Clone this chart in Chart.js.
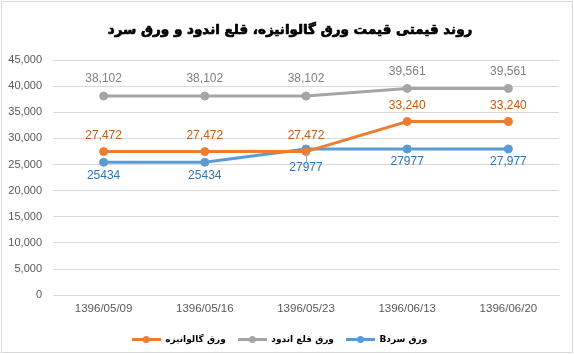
<!DOCTYPE html>
<html>
<head>
<meta charset="utf-8">
<script src="https://cdn.jsdelivr.net/npm/chart.js@4"></script>
<style>
  html, body { margin: 0; padding: 0; background: #fff; }
  #wrap { width: 574px; height: 354px; }
</style>
</head>
<body>
<div id="wrap"><canvas id="price-chart" width="574" height="354"></canvas></div>
<script>

const dates      = ["1396/05/09", "1396/05/16", "1396/05/23", "1396/06/13", "1396/06/20"];
const galvanized = [27472, 27472, 27472, 33240, 33240];
const tinPlated  = [38102, 38102, 38102, 39561, 39561];
const coldSheet  = [25434, 25434, 27977, 27977, 27977];

// labels exactly as printed on the picture
const galvanizedLabels = ["27,472", "27,472", "27,472", "33,240", "33,240"];
const tinPlatedLabels  = ["38,102", "38,102", "38,102", "39,561", "39,561"];
const coldSheetLabels  = ["25434", "25434", "27977", "27977", "27,977"];

const yTicks = [0, 5000, 10000, 15000, 20000, 25000, 30000, 35000, 40000, 45000];

const titleText = "روند قیمتی قیمت ورق گالوانیزه، قلع اندود و ورق سرد";

function legendMark(color) {
    const c = document.createElement('canvas');
    c.width = 29;
    c.height = 9;
    const g = c.getContext('2d');
    g.strokeStyle = color;
    g.lineWidth = 3;
    g.beginPath();
    g.moveTo(0, 4.5);
    g.lineTo(29, 4.5);
    g.stroke();
    g.fillStyle = color;
    g.beginPath();
    g.arc(14.5, 4.5, 3.5, 0, Math.PI * 2);
    g.fill();
    return c;
}

// draws the value labels next to each point
const pointLabels = {
    id: 'pointLabels',
    afterDatasetsDraw(chart) {
        const ctx = chart.ctx;
        ctx.save();
        ctx.font = '12px "Liberation Sans", Arial, sans-serif';
        ctx.textAlign = 'center';
        ctx.textBaseline = 'middle';
        chart.data.datasets.forEach((ds, i) => {
            const meta = chart.getDatasetMeta(i);
            meta.data.forEach((pt, j) => {
                let off = ds.labelOffset;
                if (ds.leaderAt === j) {
                    off = off + 6;
                    ctx.strokeStyle = '#a6a6a6';
                    ctx.lineWidth = 1;
                    ctx.beginPath();
                    ctx.moveTo(pt.x + 0.5, pt.y + 4);
                    ctx.lineTo(pt.x + 0.5, pt.y + off - 6);
                    ctx.stroke();
                }
                ctx.fillStyle = ds.labelColor;
                ctx.fillText(ds.valueLabels[j], pt.x, pt.y + off);
            });
        });
        ctx.restore();
    }
};

// background, outer frame and the heavy title
const frame = {
    id: 'frame',
    beforeDraw(chart) {
        const ctx = chart.ctx;
        ctx.save();
        ctx.fillStyle = '#fff';
        ctx.fillRect(0, 0, chart.width, chart.height);
        ctx.strokeStyle = '#d9d9d9';
        ctx.lineWidth = 1;
        ctx.strokeRect(1.5, 1.5, chart.width - 3, chart.height - 3);

        ctx.font = 'bold 13.5px "DejaVu Sans", sans-serif';
        ctx.textAlign = 'center';
        ctx.textBaseline = 'middle';
        ctx.direction = 'rtl';
        ctx.fillStyle = '#000';
        ctx.strokeStyle = '#000';
        ctx.lineWidth = 0.7;
        ctx.lineJoin = 'round';
        ctx.strokeText(titleText, 290, 30);
        ctx.fillText(titleText, 290, 30);
        ctx.restore();
    }
};

const ctx = document.getElementById('price-chart').getContext('2d');
new Chart(ctx, {
    type: 'line',
    data: {
        labels: dates,
        datasets: [
            {
                label: 'ورق گالوانیزه',
                data: galvanized,
                borderColor: '#ed7d31',
                backgroundColor: '#ed7d31',
                labelColor: '#c55a11',
                valueLabels: galvanizedLabels,
                labelOffset: -16,
                legendMark: legendMark('#ed7d31')
            },
            {
                label: 'ورق قلع اندود',
                data: tinPlated,
                borderColor: '#a5a5a5',
                backgroundColor: '#a5a5a5',
                labelColor: '#7f7f7f',
                valueLabels: tinPlatedLabels,
                labelOffset: -17,
                legendMark: legendMark('#a5a5a5')
            },
            {
                label: 'ورق سردB',
                data: coldSheet,
                borderColor: '#5b9bd5',
                backgroundColor: '#5b9bd5',
                labelColor: '#2e75b6',
                valueLabels: coldSheetLabels,
                labelOffset: 13,
                leaderAt: 2,
                legendMark: legendMark('#5b9bd5')
            }
        ]
    },
    options: {
        responsive: false,
        animation: false,
        layout: { padding: { left: 0, right: 15, top: 60, bottom: 0 } },
        elements: {
            line: { borderWidth: 3, tension: 0 },
            point: { radius: 4, hoverRadius: 4, pointStyle: 'circle' }
        },
        scales: {
            x: {
                offset: true,
                grid: { display: false, drawTicks: false },
                border: { color: '#d9d9d9' },
                ticks: {
                    color: '#595959',
                    padding: 7,
                    font: { family: '"Liberation Sans", Arial, sans-serif', size: 11.5 }
                }
            },
            y: {
                min: 0,
                max: 45000,
                afterBuildTicks(scale) {
                    scale.ticks = yTicks.map(v => ({ value: v }));
                },
                afterFit(scale) {
                    scale.width = 53;
                },
                grid: { color: '#d9d9d9', drawTicks: false },
                border: { display: false },
                ticks: {
                    color: '#595959',
                    padding: 11,
                    font: { family: '"Liberation Sans", Arial, sans-serif', size: 11 },
                    callback: v => v.toLocaleString('en-US')
                }
            }
        },
        plugins: {
            title: { display: false },
            legend: {
                position: 'bottom',
                textDirection: 'rtl',
                labels: {
                    usePointStyle: true,
                    pointStyleWidth: 29,
                    boxHeight: 9,
                    padding: 12,
                    color: '#000',
                    font: { family: '"DejaVu Sans", sans-serif', size: 9, weight: 'bold' },
                    generateLabels(chart) {
                        return chart.data.datasets.map((ds, i) => ({
                            text: ds.label,
                            pointStyle: ds.legendMark,
                            fillStyle: ds.borderColor,
                            strokeStyle: ds.borderColor,
                            fontColor: '#000',
                            lineWidth: 0,
                            hidden: false,
                            datasetIndex: i
                        }));
                    }
                }
            },
            tooltip: { enabled: false }
        }
    },
    plugins: [frame, pointLabels]
});
</script>
</body>
</html>
